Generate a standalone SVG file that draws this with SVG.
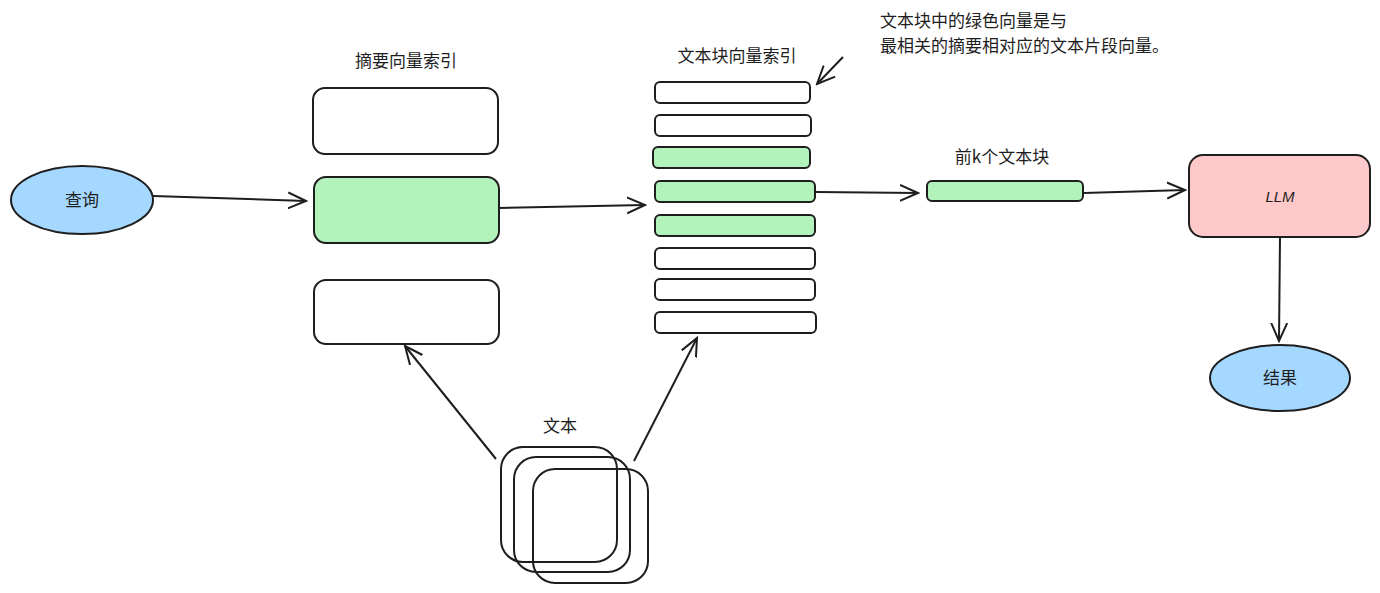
<svg xmlns="http://www.w3.org/2000/svg" width="1380" height="593" viewBox="0 0 1380 593">
<style>
text{font-family:"Noto Sans CJK SC","Liberation Sans",sans-serif;font-size:17px;fill:#1e1e1e}
.b{stroke:#1e1e1e;stroke-width:2;fill:#fff}
.g{stroke:#1e1e1e;stroke-width:2;fill:#b2f2bb}
.c{stroke:#1e1e1e;stroke-width:2;fill:none}
</style>
<defs><marker id="a" viewBox="0 0 20 20" refX="18" refY="10" markerWidth="20" markerHeight="20" markerUnits="userSpaceOnUse" orient="auto"><path d="M0 2L18 10L0 18" fill="none" stroke="#1e1e1e" stroke-width="2"/></marker></defs>
<rect width="1380" height="593" fill="#fff"/>
<g id="query"><ellipse cx="82" cy="200" rx="71" ry="34" fill="#a5d8ff" stroke="#1e1e1e" stroke-width="2"/><text x="82" y="206" text-anchor="middle">查询</text></g>
<g id="summary-index"><text x="406" y="67" text-anchor="middle">摘要向量索引</text>
<rect class="b" x="313" y="88" width="185" height="66" rx="12"/>
<rect class="g" x="314" y="177" width="185" height="66" rx="12"/>
<rect class="b" x="314" y="280" width="185" height="64" rx="12"/></g>
<g id="chunk-index"><text x="737" y="62" text-anchor="middle">文本块向量索引</text>
<rect class="b" x="655" y="82" width="155" height="21" rx="5"/>
<rect class="b" x="655" y="115" width="156" height="21" rx="5"/>
<rect class="g" x="653" y="147" width="157" height="21" rx="5"/>
<rect class="g" x="655" y="181" width="160" height="21" rx="5"/>
<rect class="g" x="655" y="215" width="160" height="21" rx="5"/>
<rect class="b" x="655" y="248" width="160" height="21" rx="5"/>
<rect class="b" x="655" y="279" width="160" height="21" rx="5"/>
<rect class="b" x="655" y="312" width="161" height="21" rx="5"/></g>
<g id="note"><text x="880" y="27">文本块中的绿色向量是与</text><text x="880" y="52">最相关的摘要相对应的文本片段向量。</text></g>
<g id="topk"><text x="1002" y="163" text-anchor="middle">前k个文本块</text><rect class="g" x="927" y="181" width="156" height="20" rx="5"/></g>
<g id="llm"><rect x="1189" y="155" width="181" height="82" rx="14" fill="#ffc9c9" stroke="#1e1e1e" stroke-width="2"/><text x="1280" y="202" text-anchor="middle" font-style="italic" style="font-family:'Liberation Sans',sans-serif;font-size:15px">LLM</text></g>
<g id="result"><ellipse cx="1280" cy="378" rx="70" ry="33" fill="#a5d8ff" stroke="#1e1e1e" stroke-width="2"/><text x="1280" y="384" text-anchor="middle">结果</text></g>
<g id="text-doc"><text x="560" y="432" text-anchor="middle">文本</text>
<rect class="c" x="501" y="447" width="116" height="115" rx="22"/>
<rect class="c" x="514" y="457" width="116" height="115" rx="22"/>
<rect class="c" x="533" y="469" width="115" height="114" rx="22"/></g>
<g id="connectors" class="c" marker-end="url(#a)">
<path class="c" marker-end="url(#a)" d="M153 196L306 201"/>
<path class="c" marker-end="url(#a)" d="M499 208L645 205"/>
<path class="c" marker-end="url(#a)" d="M816 192L918 193"/>
<path class="c" marker-end="url(#a)" d="M1084 193L1185 190"/>
<path class="c" marker-end="url(#a)" d="M1280 237L1279 341"/>
<path class="c" marker-end="url(#a)" d="M496 459L405 346"/>
<path class="c" marker-end="url(#a)" d="M634 461L697 338"/>
<path class="c" marker-end="url(#a)" d="M843 57L817 84"/>
</g>
</svg>
